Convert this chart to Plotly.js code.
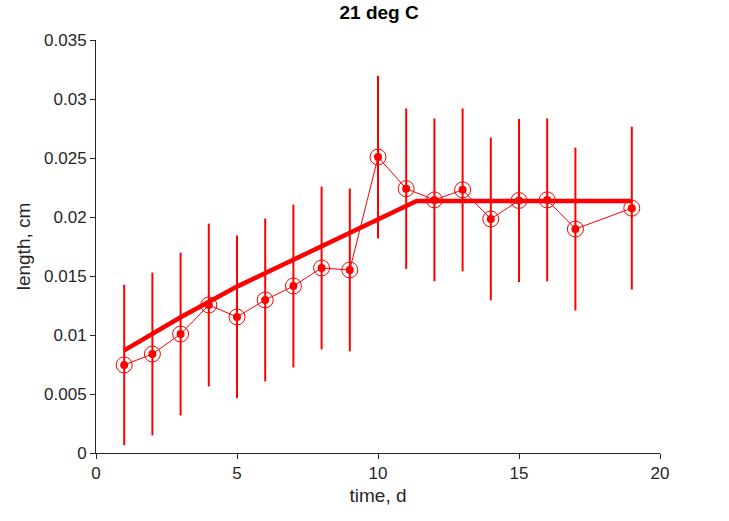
<!DOCTYPE html>
<html>
<head>
<script src="https://cdn.plot.ly/plotly-3.0.1.min.js"></script>
<style>body{margin:0;background:#fff}</style>
</head>
<body>
<div id="chart" style="width:729px;height:521px"></div>
<script>
// measured data
const days = [1,2,3,4,5,6,7,8,9,10,11,12,13,14,15,16,17,19];
const lengths = [0.00746,0.00839,0.01008,0.01254,0.01153,0.01297,0.01415,0.01568,0.01551,
                 0.02508,0.02240,0.02145,0.02230,0.01983,0.02140,0.02145,0.01898,0.02075];
const errs = [0.0068,0.0069,0.0069,0.0069,0.0069,0.0069,0.0069,0.0069,0.0069,
              0.0069,0.0068,0.0069,0.0069,0.0069,0.0069,0.0069,0.0069,0.0069];
// fitted model
const fitX = [1,3,5,7,9,11.37,19];
const fitY = [0.0087,0.0115,0.0141,0.0164,0.0187,0.02136,0.02136];

const font = {family: 'Liberation Sans, Arial, sans-serif', size: 17, color: '#262626'};

const traces = [
  {x: days, y: lengths, type: 'scatter', mode: 'lines',
   error_y: {type: 'data', array: errs, color: '#ff0000', thickness: 2, width: 0},
   line: {color: '#ff0000', width: 1}, hoverinfo: 'skip'},
  {x: fitX, y: fitY, type: 'scatter', mode: 'lines', line: {color: '#ff0000', width: 4.5}},
  {x: days, y: lengths, type: 'scatter', mode: 'markers',
   marker: {color: '#ff0000', size: 8}},
  {x: days, y: lengths, type: 'scatter', mode: 'markers',
   marker: {symbol: 'circle-open', color: '#ff0000', size: 16, line: {width: 1}}}
];

const layout = {
  width: 729, height: 521,
  margin: {l: 96, r: 69, t: 40, b: 68},
  showlegend: false,
  paper_bgcolor: '#fff', plot_bgcolor: '#fff',
  font: font,
  title: {text: '<b>21 deg C</b>', x: 0.52, y: 0.99, yanchor: 'top', font: {size: 19, color: '#000'}},
  xaxis: {range: [0, 20], dtick: 5, showgrid: false, zeroline: false,
          showline: true, linecolor: '#262626', ticks: 'outside', ticklen: 5, tickcolor: '#262626',
          tickfont: {size: 17},
          title: {text: 'time, d', standoff: 6, font: {size: 19}}},
  yaxis: {range: [0, 0.035], dtick: 0.005, showgrid: false, zeroline: false,
          showline: true, linecolor: '#262626', ticks: 'outside', ticklen: 5, tickcolor: '#262626',
          tickformat: '~g', tickfont: {size: 17},
          title: {text: 'length, cm', standoff: 8, font: {size: 19}}}
};

Plotly.newPlot('chart', traces, layout, {displayModeBar: false});
</script>
</body>
</html>
